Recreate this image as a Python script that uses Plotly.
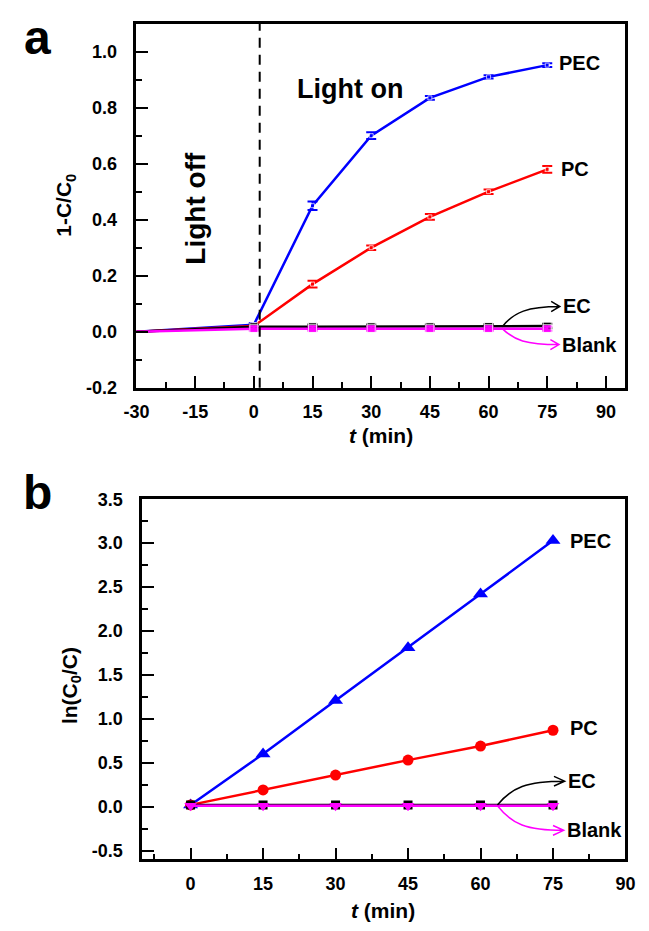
import plotly.graph_objects as go

# ---- panel a: 1 - C/C0 versus time ----
t_a = [-30, 0, 15, 30, 45, 60, 75]
pec_a = [0.0, 0.025, 0.45, 0.70, 0.835, 0.91, 0.952]
pec_a_err = [0.0, 0.006, 0.015, 0.012, 0.007, 0.006, 0.007]
pc_a = [0.0, 0.02, 0.17, 0.30, 0.41, 0.50, 0.58]
pc_a_err = [0.0, 0.005, 0.012, 0.008, 0.010, 0.008, 0.012]
ec_a = [0.0, 0.018, 0.018, 0.018, 0.018, 0.019, 0.020]
ec_a_err = [0.0, 0.008, 0.008, 0.008, 0.008, 0.008, 0.008]
blank_a = [0.0, 0.011, 0.011, 0.011, 0.011, 0.011, 0.011]
blank_a_err = [0.0, 0.008, 0.008, 0.008, 0.008, 0.008, 0.008]
light_on_t = 1.5

# ---- panel b: ln(C0/C) versus time ----
t_b = [0, 15, 30, 45, 60, 75]
pec_b = [0.02, 0.60, 1.21, 1.81, 2.42, 3.03]
pc_b = [0.02, 0.19, 0.36, 0.53, 0.69, 0.87]
ec_b = [0.02, 0.02, 0.02, 0.02, 0.02, 0.02]
blank_b = [0.01, 0.01, 0.01, 0.01, 0.01, 0.01]

# ---- tick labels (plain hyphen for negatives) ----
xa_ticks = [-30, -15, 0, 15, 30, 45, 60, 75, 90]
xa_labels = ["-30", "-15", "0", "15", "30", "45", "60", "75", "90"]
ya_ticks = [-0.2, 0.0, 0.2, 0.4, 0.6, 0.8, 1.0]
ya_labels = ["-0.2", "0.0", "0.2", "0.4", "0.6", "0.8", "1.0"]
xb_ticks = [0, 15, 30, 45, 60, 75, 90]
xb_labels = ["0", "15", "30", "45", "60", "75", "90"]
yb_ticks = [-0.5, 0.0, 0.5, 1.0, 1.5, 2.0, 2.5, 3.0, 3.5]
yb_labels = ["-0.5", "0.0", "0.5", "1.0", "1.5", "2.0", "2.5", "3.0", "3.5"]

BLUE, RED, MAG, BLK = "#0000FF", "#FF0000", "#FF00FF", "#000000"
FONT = "Liberation Sans, Arial, sans-serif"


def hide_first(vals, size):
    return [0 if i == 0 else size for i in range(len(vals))]


fig = go.Figure()

# panel a traces
for y, err, col, sym, ms in [
    (pec_a, pec_a_err, BLUE, "square", 4),
    (pc_a, pc_a_err, RED, "square", 4),
    (ec_a, ec_a_err, BLK, "square", 8),
    (blank_a, blank_a_err, MAG, "square", 8),
]:
    fig.add_trace(go.Scatter(
        x=t_a, y=y, mode="lines+markers", xaxis="x", yaxis="y",
        line=dict(color=col, width=2.5),
        marker=dict(symbol=sym, size=hide_first(y, ms), color=col),
        error_y=dict(type="data", array=err, color=col, thickness=2, width=5),
        showlegend=False, hoverinfo="skip",
    ))

# panel b traces
for y, col, sym, ms in [
    (pec_b, BLUE, "triangle-up", 13),
    (pc_b, RED, "circle", 11),
    (ec_b, BLK, "square", 9),
    (blank_b, MAG, "triangle-down", 11),
]:
    fig.add_trace(go.Scatter(
        x=t_b, y=y, mode="lines+markers", xaxis="x2", yaxis="y2",
        line=dict(color=col, width=2.5),
        marker=dict(symbol=sym, size=ms, color=col),
        showlegend=False, hoverinfo="skip",
    ))

tickfont = dict(family=FONT, size=18, color="black", weight="bold")
common = dict(
    showline=True, linecolor="black", linewidth=2.5, mirror=True,
    ticks="inside", ticklen=12, tickwidth=2, tickcolor="black",
    showgrid=False, zeroline=False, tickfont=tickfont, fixedrange=True,
    tickmode="array",
)


def minor(dt, t0):
    return dict(ticks="inside", ticklen=6, tickwidth=2, tickcolor="black",
                tick0=t0, dtick=dt, showgrid=False)


W, H = 649, 931
fig.update_layout(
    width=W, height=H, margin=dict(l=0, r=0, t=0, b=0),
    paper_bgcolor="white", plot_bgcolor="white",
    xaxis=dict(common, domain=[128 / W, 635 / W], anchor="y",
               range=[-30, 95], tickvals=xa_ticks, ticktext=xa_labels,
               minor=minor(7.5, -30), ticklabelstandoff=6),
    yaxis=dict(common, domain=[1 - 386 / H, 1 - 14 / H], anchor="x",
               range=[-0.2, 1.1], tickvals=ya_ticks, ticktext=ya_labels,
               minor=minor(0.1, 0), ticklabelstandoff=13),
    xaxis2=dict(common, domain=[134 / W, 635 / W], anchor="y2",
                range=[-10, 90], tickvals=xb_ticks, ticktext=xb_labels,
                minor=minor(7.5, 0), ticklabelstandoff=6),
    yaxis2=dict(common, domain=[1 - 868 / H, 1 - 500 / H], anchor="x2",
                range=[-0.6, 3.5], tickvals=yb_ticks, ticktext=yb_labels,
                minor=minor(0.25, 0), ticklabelstandoff=13),
)

# light-on boundary
fig.add_shape(type="line", xref="x", yref="y domain",
              x0=light_on_t, x1=light_on_t, y0=0, y1=1,
              line=dict(color="black", width=2, dash="10px,7px"))


def curved_arrow(xr, yr, p0, c1, c2, p1, hx, hy, col):
    path = (f"M {p0[0]},{p0[1]} C {c1[0]},{c1[1]} {c2[0]},{c2[1]} {p1[0]},{p1[1]} "
            f"M {p1[0] - hx},{p1[1] + hy} L {p1[0]},{p1[1]} L {p1[0] - hx},{p1[1] - hy}")
    fig.add_shape(type="path", xref=xr, yref=yr, path=path,
                  line=dict(color=col, width=1.5))


# label arrows panel a
curved_arrow("x", "y", (63.5, 0.018), (66.5, 0.07), (70, 0.09), (78.2, 0.09), 2.2, 0.018, BLK)
curved_arrow("x", "y", (63.5, 0.011), (66.5, -0.03), (69.5, -0.046), (78.0, -0.046), 2.2, 0.018, MAG)
# label arrows panel b
curved_arrow("x2", "y2", (63.5, 0.02), (66.5, 0.22), (69.5, 0.29), (77.4, 0.29), 2.2, 0.055, BLK)
curved_arrow("x2", "y2", (63.5, 0.01), (66.5, -0.2), (69.5, -0.27), (77.2, -0.27), 2.2, 0.055, MAG)


def label(text, x, y, xr, yr, size=20, **kw):
    fig.add_annotation(text=text, x=x, y=y, xref=xr, yref=yr, showarrow=False,
                       font=dict(family=FONT, size=size, color="black", weight="bold"),
                       **kw)


# series labels
label("PEC", 77.6, 0.961, "x", "y", xanchor="left", yanchor="middle")
label("PC", 77.9, 0.582, "x", "y", xanchor="left", yanchor="middle")
label("EC", 78.4, 0.091, "x", "y", xanchor="left", yanchor="middle")
label("Blank", 78.2, -0.046, "x", "y", xanchor="left", yanchor="middle")
label("PEC", 78.0, 3.02, "x2", "y2", xanchor="left", yanchor="middle")
label("PC", 78.2, 0.90, "x2", "y2", xanchor="left", yanchor="middle")
label("EC", 77.6, 0.29, "x2", "y2", xanchor="left", yanchor="middle")
label("Blank", 77.4, -0.27, "x2", "y2", xanchor="left", yanchor="middle")

# phase labels
label("Light on", 24.6, 0.867, "x", "y", size=27, xanchor="center", yanchor="middle")
label("Light off", -15, 0.44, "x", "y", size=28, xanchor="center", yanchor="middle",
      textangle=-90)

# axis titles
label("<i>t</i> (min)", 382 / W, 1 - 435 / H, "paper", "paper", size=21,
      xanchor="center", yanchor="middle")
label("1-C/C<sub>0</sub>", 54 / W, 1 - 200 / H, "paper", "paper", size=21,
      xanchor="center", yanchor="middle", textangle=-90)
label("<i>t</i> (min)", 384 / W, 1 - 920 / H, "paper", "paper", size=21,
      xanchor="center", yanchor="middle")
label("ln(C<sub>0</sub>/C)", 60 / W, 1 - 690 / H, "paper", "paper", size=21,
      xanchor="center", yanchor="middle", textangle=-90)

# panel letters
label("a", 25 / W, 1 - 28 / H, "paper", "paper", size=48, xanchor="center", yanchor="middle")
label("b", 25 / W, 1 - 493 / H, "paper", "paper", size=48, xanchor="center", yanchor="middle")

fig.write_html("out.html")
